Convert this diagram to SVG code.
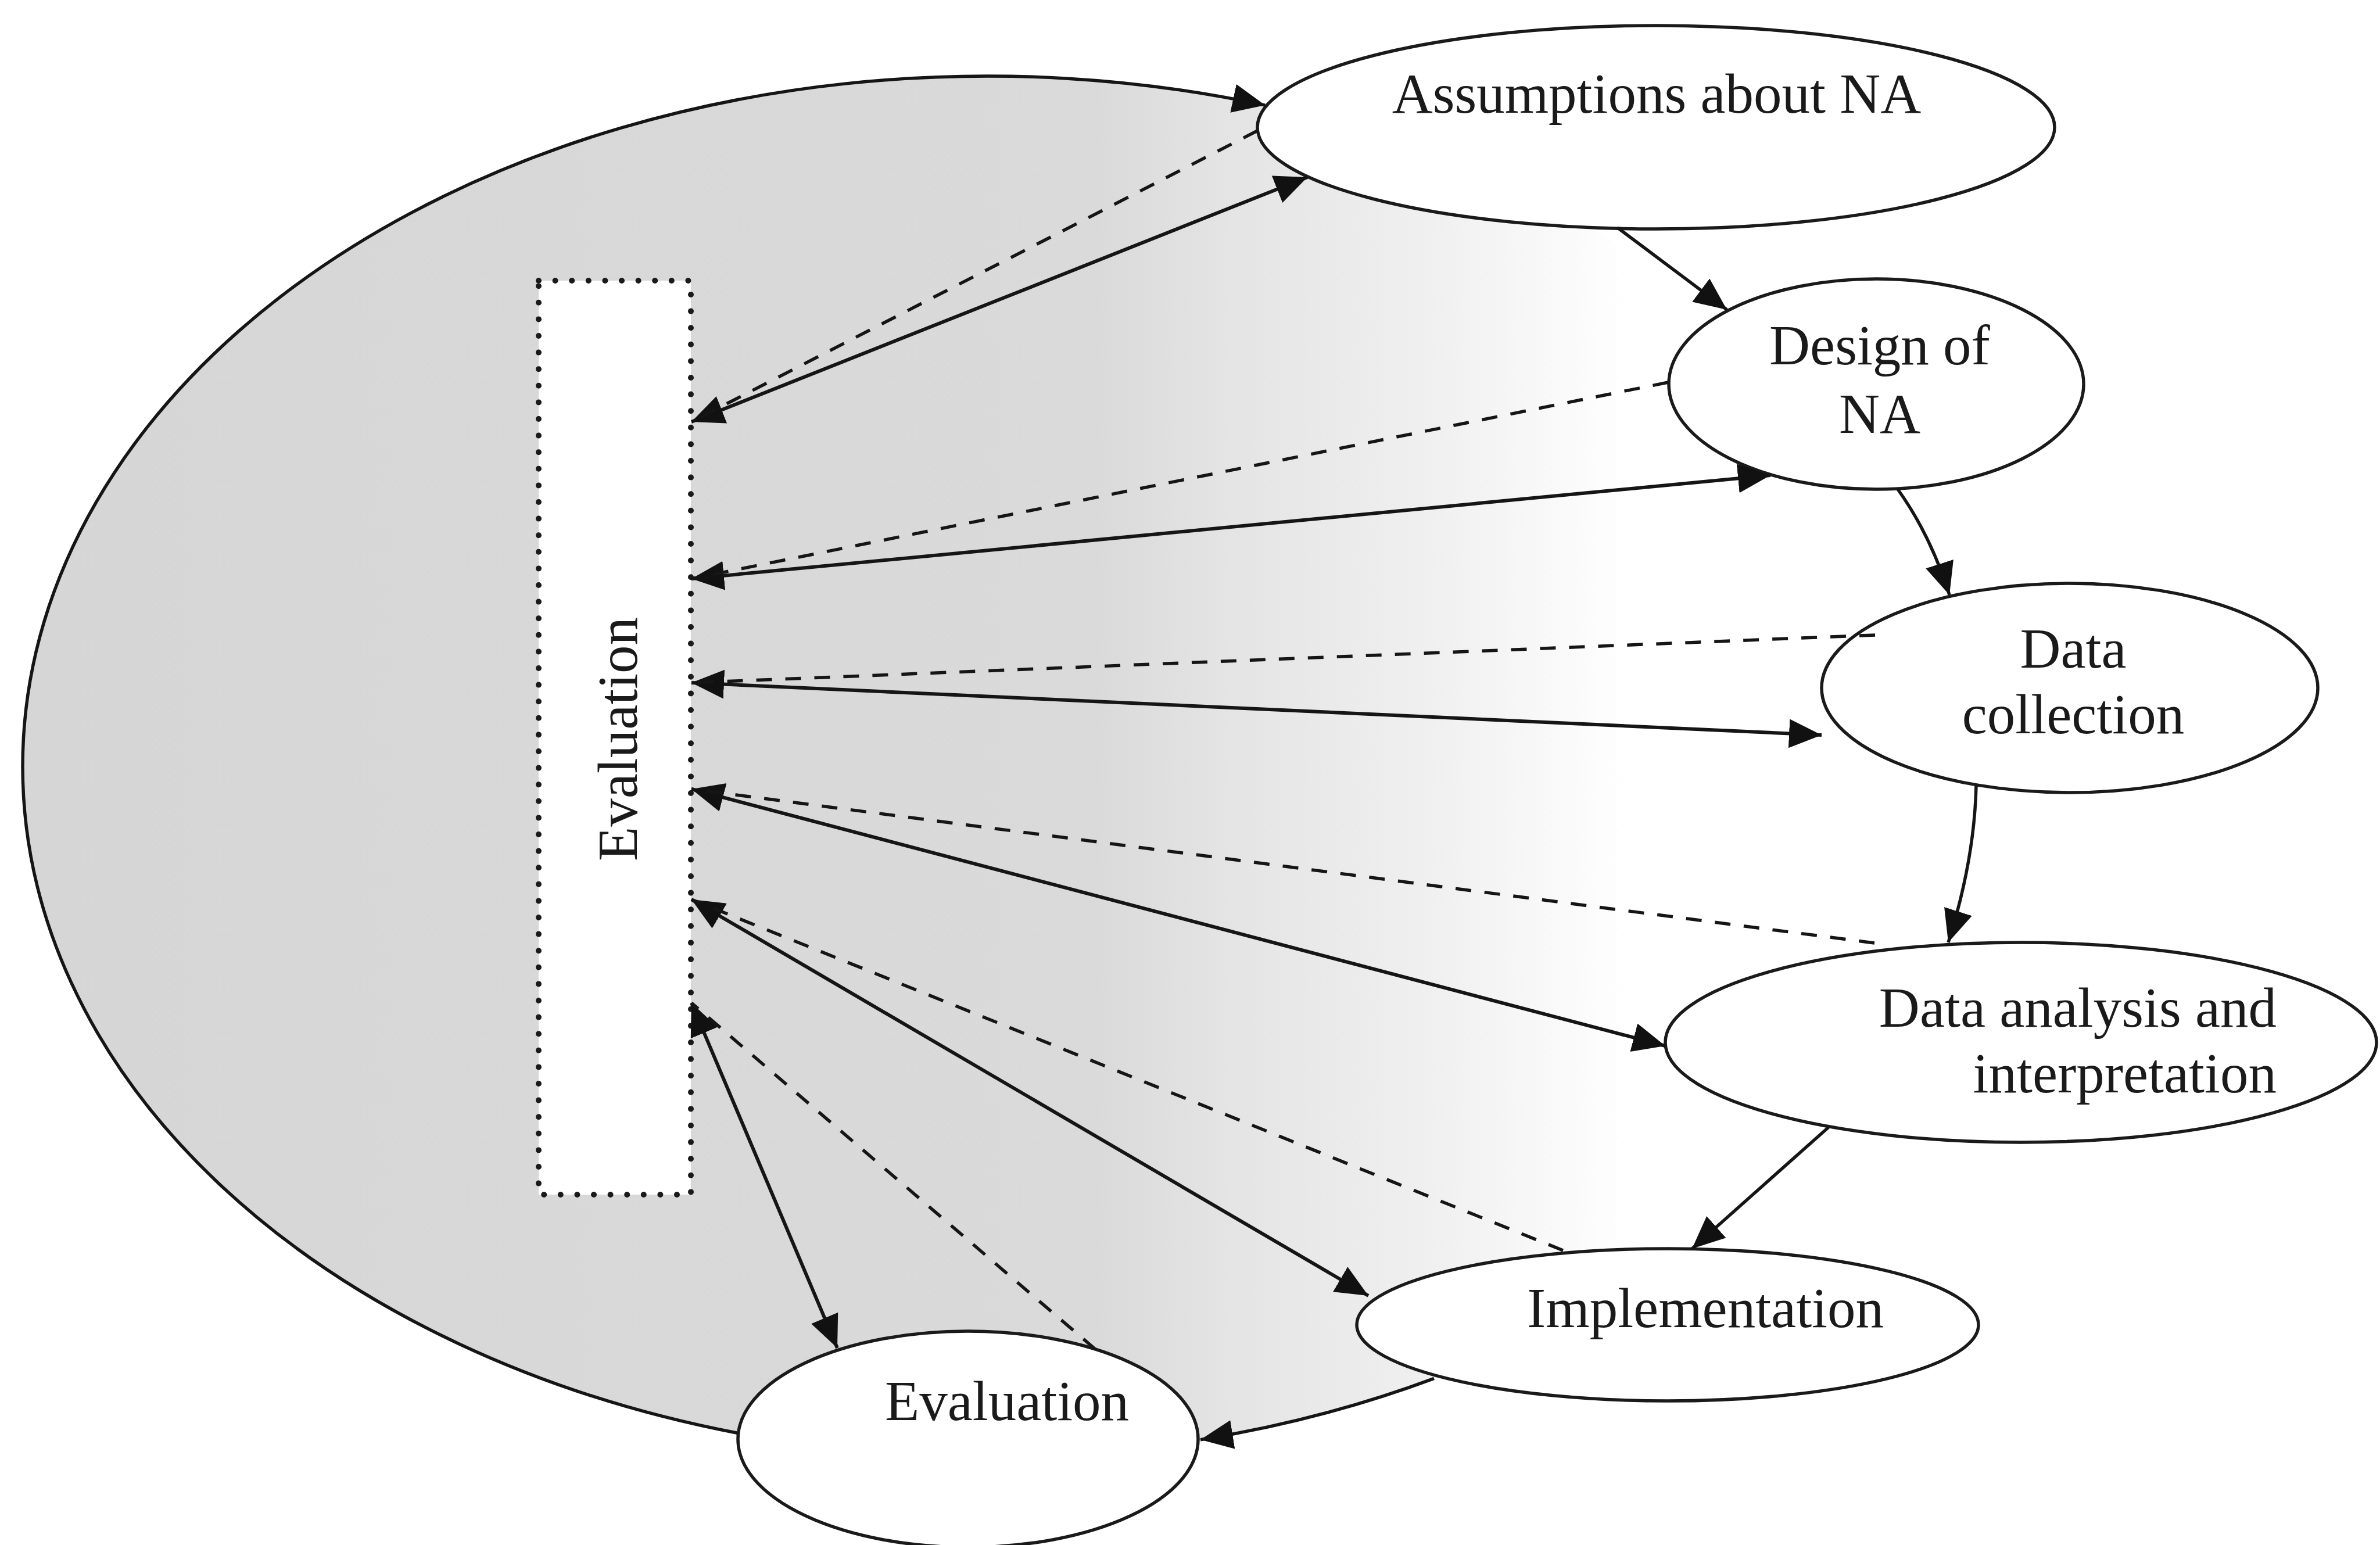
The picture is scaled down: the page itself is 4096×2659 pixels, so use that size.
<svg xmlns="http://www.w3.org/2000/svg" width="4096" height="2659" viewBox="0 0 4096 2659">
  <style>
    .node { fill: #ffffff; stroke: #1a1a1a; stroke-width: 5.5; }
    .lbl { font-family: "Liberation Serif", "Times New Roman", serif; font-size: 97px; fill: #1a1a1a; }
    .mid { text-anchor: middle; }
    .end { text-anchor: end; }
    .flow { fill: none; stroke: #151515; stroke-width: 5.5; }
    .solid { fill: none; stroke: #151515; stroke-width: 6; marker-start: url(#head); marker-end: url(#head); }
    .dash { fill: none; stroke: #151515; stroke-width: 5.5; stroke-dasharray: 27 23; }
  </style>
  <defs>
    <linearGradient id="shade" gradientUnits="userSpaceOnUse" x1="40" y1="0" x2="2800" y2="0">
      <stop offset="0" stop-color="#d6d6d6"/>
      <stop offset="0.67" stop-color="#dadada"/>
      <stop offset="0.75" stop-color="#e4e4e4"/>
      <stop offset="0.88" stop-color="#f0f0f0"/>
      <stop offset="0.98" stop-color="#fcfcfc"/>
      <stop offset="1" stop-color="#ffffff"/>
    </linearGradient>
    <marker id="head" markerUnits="userSpaceOnUse" markerWidth="60" markerHeight="52" refX="56" refY="25" orient="auto-start-reverse">
      <path d="M0,0 L56,25 L0,50 z" fill="#111"/>
    </marker>
  </defs>

  <rect width="4096" height="2659" fill="#ffffff"/>

  <!-- shaded evaluation field -->
  <ellipse cx="1700" cy="1319" rx="1661" ry="1188" fill="url(#shade)"/>

  <!-- nodes -->
  <g id="evaluation-frame">
    <rect x="927" y="483" width="262" height="1573" fill="#ffffff"/>
    <rect x="927" y="483" width="262" height="1573" fill="none" stroke="#1a1a1a" stroke-width="10" stroke-linecap="round" stroke-dasharray="0 28.6"/>
    <text class="lbl mid" transform="translate(1096,1272) rotate(-90)">Evaluation</text>
  </g>
  <g id="assumptions">
    <ellipse class="node" cx="2850" cy="219" rx="686" ry="175"/>
    <text class="lbl mid" x="2851" y="194">Assumptions about NA</text>
  </g>
  <g id="design">
    <ellipse class="node" cx="3229" cy="661" rx="357" ry="181"/>
    <text class="lbl mid" x="3235" y="627">Design of</text>
    <text class="lbl mid" x="3235" y="745">NA</text>
  </g>
  <g id="data-collection">
    <ellipse class="node" cx="3562" cy="1184" rx="427" ry="180"/>
    <text class="lbl mid" x="3568" y="1149">Data</text>
    <text class="lbl mid" x="3568" y="1262">collection</text>
  </g>
  <g id="data-analysis">
    <ellipse class="node" cx="3478" cy="1794" rx="612" ry="172"/>
    <text class="lbl end" x="3918" y="1767">Data analysis and</text>
    <text class="lbl end" x="3918" y="1880">interpretation</text>
  </g>
  <g id="implementation">
    <ellipse class="node" cx="2870" cy="2280" rx="535" ry="131"/>
    <text class="lbl mid" x="2935" y="2284">Implementation</text>
  </g>
  <g id="evaluation">
    <ellipse class="node" cx="1666" cy="2477" rx="396" ry="186"/>
    <text class="lbl mid" x="1733" y="2444">Evaluation</text>
  </g>

  <!-- connectors -->
  <g id="connectors">
    <!-- main cycle -->
    <path class="flow" marker-end="url(#head)" d="M1270.1,2466.5 A1661,1188 0 0 1 39,1319 A1661,1188 0 0 1 2177.3,181.1"/>
    <path class="flow" marker-end="url(#head)" d="M2784,392 L2972,533"/>
    <path class="flow" marker-end="url(#head)" d="M3266,842 Q3322,920 3355,1024"/>
    <path class="flow" marker-end="url(#head)" d="M3401,1352 Q3398,1480 3353,1622"/>
    <path class="flow" marker-end="url(#head)" d="M3147,1940 L2912,2149"/>
    <path class="flow" marker-end="url(#head)" d="M2468,2372.4 A1661,1188 0 0 1 2066,2477.8"/>

    <!-- evaluation links: two-way (solid) and feedback (dashed) -->
    <path class="solid" d="M1190,726 L2250,305"/>
    <path class="dash" d="M2164,225 L1190,726"/>

    <path class="solid" d="M1190,996 L3047,818"/>
    <path class="dash" d="M2871,658 L1190,996"/>

    <path class="solid" d="M1190,1175 L3135,1265"/>
    <path class="dash" d="M3227,1093 L1190,1175"/>

    <path class="solid" d="M1190,1358 L2866,1800"/>
    <path class="dash" d="M3226,1623 L1190,1358"/>

    <path class="solid" d="M1190,1548 L2355,2230"/>
    <path class="dash" d="M2690,2152 L1190,1548"/>

    <path class="solid" d="M1190,1726 L1441,2320"/>
    <path class="dash" d="M1885,2322 L1190,1726"/>
  </g>
</svg>
